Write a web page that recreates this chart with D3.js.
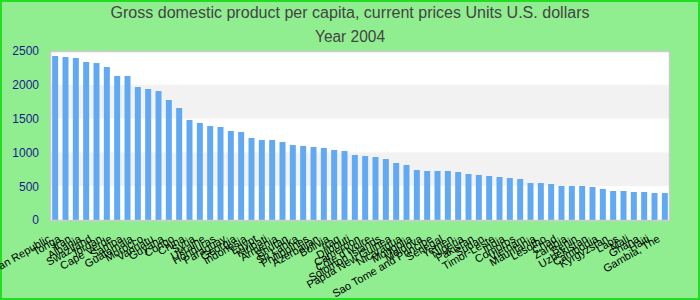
<!DOCTYPE html>
<html>
<head>
<meta charset="utf-8">
<script src="https://cdn.jsdelivr.net/npm/d3@7"></script>
<style>
html,body{margin:0;padding:0;background:#90ee90;}
svg{display:block;font-family:"Liberation Sans",Arial,sans-serif;}
</style>
</head>
<body>
<svg id="chart" width="700" height="300"></svg>
<script>
const titleText = "Gross domestic product per capita, current prices Units U.S. dollars";
const subtitleText = "Year 2004";

const countries = [
  "Dominican Republic","Tonga","Iran","Albania","Swaziland","Jordan","Cape Verde","Samoa","Guatemala","Morocco",
  "Vanuatu","Guyana","Congo","China","Syria","Ukraine","Honduras","Paraguay","Georgia","Indonesia",
  "Egypt","Kiribati","Armenia","Bhutan","Sri Lanka","Philippines","Azerbaijan","Bolivia","Iraq","Djibouti",
  "Cameroon","Côte d'Ivoire","Solomon Islands","Papua New Guinea","Nicaragua","Mongolia","Moldova","Sao Tome and Principe","Senegal","Yemen",
  "Nigeria","Pakistan","Sudan","Timor-Leste","India","Comoros","Vietnam","Mauritania","Lesotho","Chad",
  "Zambia","Benin","Uzbekistan","Cambodia","Kyrgyzstan","Laos","Mali","Ghana","Haiti","Gambia, The"
];
const values = [
  2426,2411,2396,2337,2322,2263,2130,2130,1967,1938,
  1908,1775,1657,1479,1435,1390,1376,1317,1302,1213,
  1183,1183,1154,1109,1095,1080,1065,1036,1021,962,
  947,932,902,843,814,740,725,725,725,710,
  680,666,651,636,621,607,547,547,533,503,
  503,503,488,459,429,429,414,414,399,399
];
const yTicks = [0,500,1000,1500,2000,2500];

const svg = d3.select("#chart");
const W = 700, H = 300;
const m = {left:50, right:30, top:51, bottom:80};
const pw = W - m.left - m.right, ph = H - m.top - m.bottom;

svg.append("rect").attr("x",1).attr("y",1).attr("width",W-2).attr("height",H-2)
  .attr("fill","#90ee90").attr("stroke","#22dd22").attr("stroke-width",2);

svg.append("text").attr("x",W/2).attr("y",18).attr("text-anchor","middle")
  .attr("font-size",16).attr("fill","#444").text(titleText)
  .attr("textLength",479).attr("lengthAdjust","spacingAndGlyphs");
svg.append("text").attr("x",W/2).attr("y",42).attr("text-anchor","middle")
  .attr("font-size",16).attr("fill","#444").text(subtitleText)
  .attr("textLength",70).attr("lengthAdjust","spacingAndGlyphs");

const x = d3.scaleBand().domain(countries).range([m.left, m.left+pw]).paddingInner(0.42).paddingOuter(0.21);
const y = d3.scaleLinear().domain([0,2500]).range([m.top+ph, m.top]);

const g = svg.append("g");
g.append("rect").attr("x",m.left).attr("y",m.top).attr("width",pw).attr("height",ph).attr("fill","#fff");
for (let i=0;i<yTicks.length-1;i++){
  if (i%2===1){
    g.append("rect").attr("x",m.left).attr("width",pw)
      .attr("y",y(yTicks[i+1])).attr("height",y(yTicks[i])-y(yTicks[i+1])).attr("fill","#f2f2f2");
  }
}

g.selectAll("rect.bar").data(values).join("rect").attr("class","bar")
  .attr("x",(d,i)=>x(countries[i])).attr("width",x.bandwidth())
  .attr("y",d=>y(d)).attr("height",d=>y(0)-y(d)).attr("fill","#62a9f3");

g.append("rect").attr("x",m.left+0.5).attr("y",m.top+0.5).attr("width",pw-1).attr("height",ph)
  .attr("fill","none").attr("stroke","#ccc").attr("stroke-width",1.5);

const ya = d3.axisLeft(y).tickValues(yTicks).tickFormat(d3.format("d")).tickSize(0).tickPadding(11);
const yg = svg.append("g").attr("transform",`translate(${m.left},0)`).call(ya);
yg.select(".domain").remove();
yg.selectAll("text").attr("font-size",12).attr("fill","#1a1a8c").attr("font-family","Liberation Sans, Arial, sans-serif");

const xa = d3.axisBottom(x).tickSize(0).tickPadding(0);
const xg = svg.append("g").attr("transform",`translate(0,${m.top+ph})`).call(xa);
xg.select(".domain").remove();
xg.selectAll("text")
  .attr("font-size",11).attr("fill","#000").attr("font-family","Liberation Sans, Arial, sans-serif")
  .attr("text-anchor","end").attr("dy",0).attr("y",0)
  .attr("transform","translate(-4,21) rotate(-30)");
</script>
</body>
</html>
